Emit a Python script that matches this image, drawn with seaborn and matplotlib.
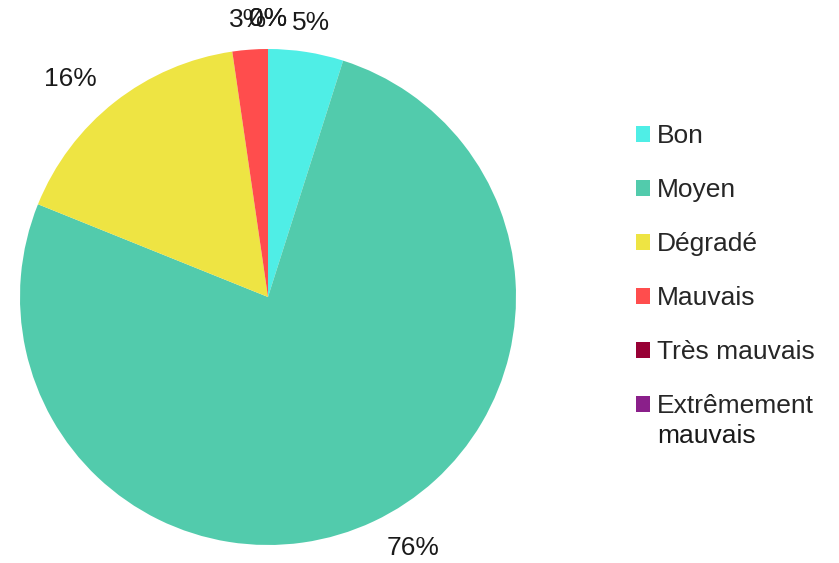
import matplotlib
matplotlib.use("Agg")
import matplotlib.pyplot as plt
import seaborn as sns

# Etat des masses d'eau - repartition
categories = ['Bon', 'Moyen', 'Dégradé', 'Mauvais', 'Très mauvais', 'Extrêmement']
last_line = 'mauvais'
shares = [4.9, 76.2, 16.6, 2.3, 0.0, 0.0]
pct_labels = ['5%', '76%', '16%', '3%', '0%', '0%']
colors = ['#4FEEE6', '#52CBAC', '#EEE443', '#FF4D4D', '#980035', '#8A1F8A']

sns.set_style('white')
plt.rcParams['font.family'] = ['Liberation Sans', 'DejaVu Sans']

fig = plt.figure(figsize=(8.39, 5.63), dpi=100)
ax = fig.add_axes([0, 0, 537 / 839, 1])

wedges, texts = ax.pie(shares, labels=pct_labels, colors=colors, startangle=90,
                       counterclock=False, labeldistance=1.12,
                       wedgeprops=dict(linewidth=0),
                       textprops=dict(fontsize=19, color='#1a1a1a'))

# labels near the top are centred like in the original
for t in texts:
    if abs(t.get_position()[0]) < 0.3:
        t.set_ha('center')

# 1 unit = 248 px, centre at (268, 297) px
ax.set_xlim(-268 / 248, (537 - 268) / 248)
ax.set_ylim(-(563 - 297) / 248, 297 / 248)
ax.set_aspect('auto')
ax.axis('off')

leg = fig.legend(wedges, categories, loc='upper left', bbox_to_anchor=(636 / 839, 1 - 124 / 563),
                 frameon=False, fontsize=19, handlelength=0.54, handleheight=0.54,
                 handletextpad=0.25, labelspacing=1.14, borderpad=0, borderaxespad=0)

# second line of the last label, under "Extrêmement"
fig.canvas.draw()
bb = leg.get_texts()[-1].get_window_extent().transformed(fig.transFigure.inverted())
fig.text(bb.x0, bb.y0 - 30 / 563, last_line, fontsize=19, color='#1a1a1a', ha='left', va='bottom')

fig.savefig('out.png', dpi=100)
